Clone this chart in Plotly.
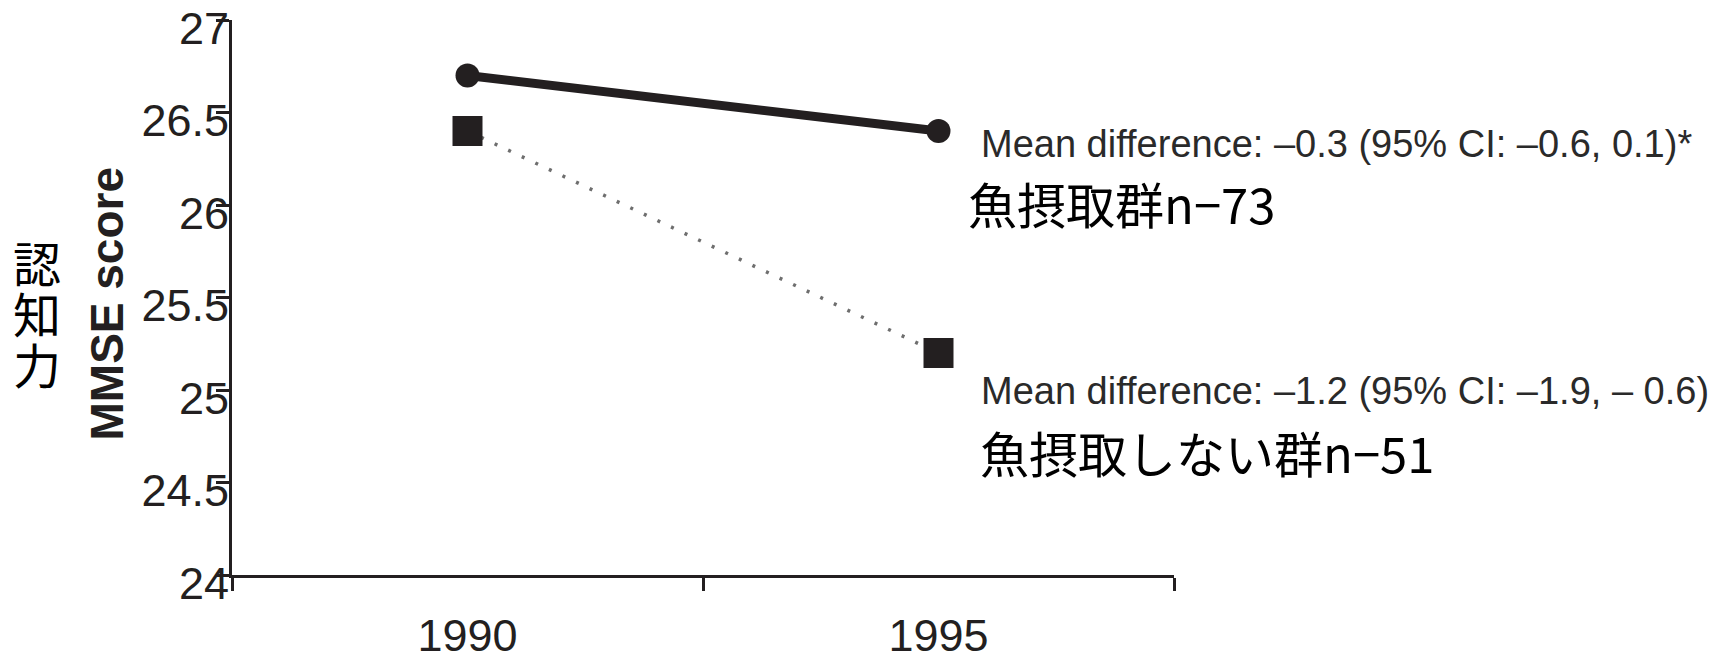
import plotly.graph_objects as go

# Survey years and mean MMSE scores per group
years = [1990, 1995]
fish_scores = [26.7, 26.4]
nofish_scores = [26.4, 25.2]

# Axis ticks
y_ticks = [24, 24.5, 25, 25.5, 26, 26.5, 27]
x_bounds = [1987.5, 1992.5, 1997.5]

# Text beside each group's 1995 point
fish_diff = "Mean difference: \u20130.3 (95% CI: \u20130.6, 0.1)*"
fish_label = "魚摂取群n\u221273"
nofish_diff = "Mean difference: \u20131.2 (95% CI: \u20131.9, \u2013 0.6)"
nofish_label = "魚摂取しない群n\u221251"
side_title = ["認", "知", "力"]

INK = "#231f20"
LATIN = "Liberation Sans, Arial, sans-serif"
CJK = "Noto Sans CJK JP, sans-serif"

fig = go.Figure()

fig.add_trace(go.Scatter(
    x=years, y=nofish_scores, mode="lines+markers",
    line=dict(color="#6e6e6e", width=3.5, dash="3px,12px"),
    marker=dict(symbol="square", size=30, color=INK),
    showlegend=False,
))
fig.add_trace(go.Scatter(
    x=years, y=fish_scores, mode="lines+markers",
    line=dict(color=INK, width=9),
    marker=dict(symbol="circle", size=24, color=INK),
    showlegend=False,
))
# invisible trace on the label axes so they get drawn
fig.add_trace(go.Scatter(x=years, y=fish_scores, xaxis="x2", yaxis="y2", mode="none",
                         showlegend=False, hoverinfo="skip"))

axis_line = dict(showline=True, linewidth=3, linecolor=INK,
                 ticks="outside", ticklen=13, tickwidth=3, tickcolor=INK,
                 showgrid=False, zeroline=False, automargin=False)

fig.update_layout(
    width=1718, height=658,
    margin=dict(l=232, r=544, t=20, b=83),
    paper_bgcolor="white", plot_bgcolor="white",
    font=dict(family=LATIN, color=INK),
    # axis lines and tick marks
    xaxis=dict(range=[1987.5, 1997.5], tickvals=x_bounds, showticklabels=False, **axis_line),
    yaxis=dict(range=[24, 27], tickvals=y_ticks, showticklabels=False, **axis_line),
    # tick labels
    xaxis2=dict(
        range=[1987.5, 1997.5], overlaying="x", anchor="y", side="bottom",
        tickvals=years, ticks="", showline=False, showgrid=False, zeroline=False,
        tickfont=dict(size=45, family=LATIN, color=INK),
        ticklabelstandoff=30, automargin=False, ticklabeloverflow="allow",
    ),
    yaxis2=dict(
        range=[24, 27], overlaying="y", anchor="x", side="left",
        tickvals=y_ticks, ticks="", showline=False, showgrid=False, zeroline=False,
        tickfont=dict(size=45, family=LATIN, color=INK),
        ticklabelstandoff=2, ticklabelshift=8, automargin=False, ticklabeloverflow="allow",
    ),
)

annotations = [
    dict(text="<b>MMSE score</b>", xref="paper", yref="paper", x=0, y=0.5,
         xanchor="center", yanchor="middle", xshift=-126, yshift=-6,
         textangle=-90, showarrow=False,
         font=dict(size=46, family=LATIN, color=INK)),
    dict(text=fish_diff, x=years[1], y=fish_scores[1], xanchor="left", yanchor="middle",
         xshift=40, yshift=-13, showarrow=False,
         font=dict(size=38, family=LATIN, color="#2a2a2a")),
    dict(text=fish_label, x=years[1], y=fish_scores[1], xanchor="left", yanchor="middle",
         xshift=27, yshift=-71, showarrow=False,
         font=dict(size=49, family=CJK, color="black")),
    dict(text=nofish_diff, x=years[1], y=nofish_scores[1], xanchor="left", yanchor="middle",
         xshift=40, yshift=-38, showarrow=False,
         font=dict(size=38, family=LATIN, color="#2a2a2a")),
    dict(text=nofish_label, x=years[1], y=nofish_scores[1], xanchor="left", yanchor="middle",
         xshift=39, yshift=-98, showarrow=False,
         font=dict(size=49, family=CJK, color="black")),
]
# vertical side title, one character per row
for i, ch in enumerate(side_title):
    annotations.append(dict(
        text=ch, xref="paper", yref="paper", x=0, y=0.5,
        xanchor="center", yanchor="middle", xshift=-195, yshift=37 - 51 * i,
        showarrow=False, font=dict(size=48, family=CJK, color="black")))
fig.update_layout(annotations=annotations)

fig.write_html("out.html")
